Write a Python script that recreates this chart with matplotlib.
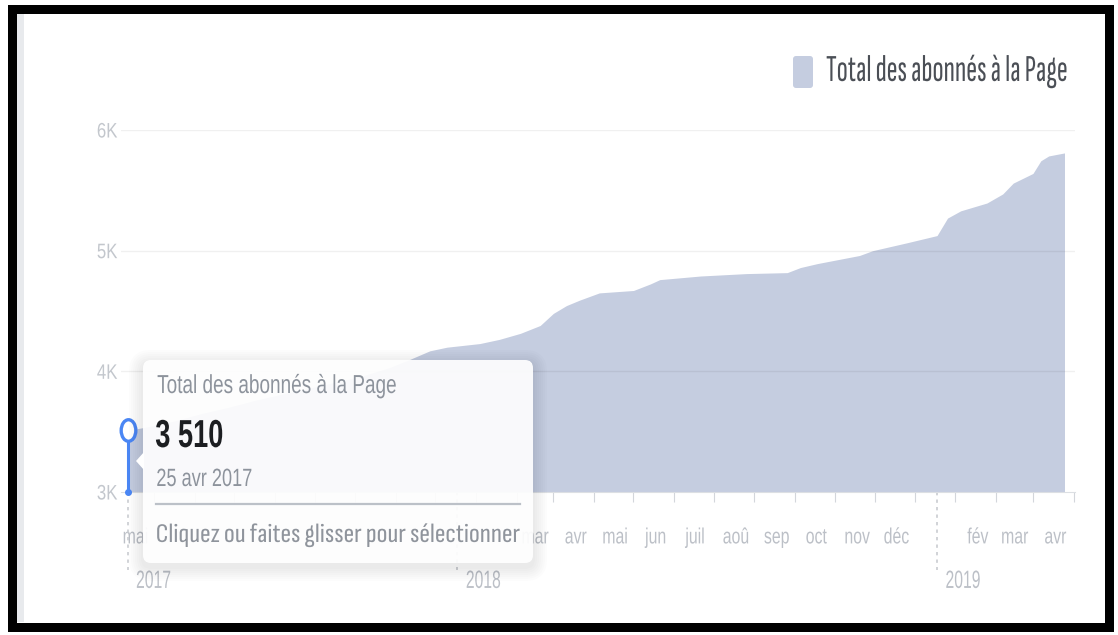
import matplotlib
matplotlib.use('Agg')
import matplotlib.pyplot as plt
import pandas as pd
from matplotlib.patches import FancyBboxPatch, Rectangle, Polygon
from matplotlib.patheffects import AbstractPathEffect
from matplotlib.path import Path
from matplotlib.transforms import Affine2D, blended_transform_factory, offset_copy

W, H = 1118, 635

# total page followers over time
dates = ['2017-04-25', '2017-05-10', '2017-05-31', '2017-06-20', '2017-07-10',
         '2017-07-31', '2017-08-20', '2017-09-10', '2017-09-30', '2017-10-20',
         '2017-11-10', '2017-11-26', '2017-12-11', '2017-12-24', '2018-01-18',
         '2018-02-02', '2018-02-18', '2018-03-05', '2018-03-15', '2018-03-25',
         '2018-04-04', '2018-04-19', '2018-05-15', '2018-05-28', '2018-06-04',
         '2018-07-05', '2018-08-09', '2018-09-09', '2018-09-19', '2018-10-02',
         '2018-11-03', '2018-11-13', '2018-12-09', '2019-01-01', '2019-01-09',
         '2019-01-19', '2019-02-08', '2019-02-20', '2019-02-28', '2019-03-15',
         '2019-03-21', '2019-03-27', '2019-04-08']
followers = [3510, 3540, 3590, 3650, 3700,
             3760, 3810, 3860, 3910, 3960,
             4030, 4100, 4170, 4200, 4230,
             4265, 4315, 4380, 4480, 4545,
             4590, 4650, 4670, 4725, 4760,
             4790, 4810, 4818, 4860, 4893,
             4960, 5000, 5065, 5125, 5270,
             5330, 5395, 5470, 5560, 5640,
             5745, 5785, 5810]

month_names = ['janv', 'fév', 'mar', 'avr', 'mai', 'jun', 'juil', 'aoû',
               'sep', 'oct', 'nov', 'déc']
y_ticks = [3000, 4000, 5000, 6000]
y_labels = ['3K', '4K', '5K', '6K']
year_marks = ['2017-04-25', '2018-01-01', '2019-01-01']
year_labels = ['2017', '2018', '2019']

series_name = 'Total des abonnés à la Page'
hover_date = '2017-04-25'
hover_value = 3510
hover_day = '25 avr 2017'
hint = 'Cliquez ou faites glisser pour sélectionner'
# months whose labels sit behind the hover card
card_months = ('2017-06-01', '2018-02-01')

AREA = '#c5cde0'
BLUE = '#4a86f4'
AXIS_GREY = '#bcc0c7'
NARROW = ['Sofia Sans Extra Condensed', 'Liberation Sans', 'DejaVu Sans']

plt.rcParams['font.family'] = ['Liberation Sans', 'DejaVu Sans']


class Squeeze(AbstractPathEffect):
    """Draws text glyphs rescaled horizontally about the text anchor."""

    def __init__(self, factor=0.75, anchor='left'):
        super().__init__()
        self.factor = factor
        self.anchor = anchor

    def draw_path(self, renderer, gc, tpath, affine, rgbFace=None):
        ext = tpath.get_extents()
        x0 = {'left': ext.x0, 'center': (ext.x0 + ext.x1) / 2,
              'right': ext.x1}[self.anchor]
        squeeze = Affine2D().translate(-x0, 0).scale(self.factor, 1).translate(x0, 0)
        renderer.draw_path(gc, tpath, squeeze + affine, rgbFace)


fig = plt.figure(figsize=(W / 100, H / 100), dpi=100)
fig.patch.set_facecolor('white')
renderer = fig.canvas.get_renderer()
# pixel coordinates, origin at top left
px = Affine2D().scale(1 / W, -1 / H).translate(0, 1) + fig.transFigure


def fit(t, width, anchor):
    """Rescale a text horizontally so its ink spans `width` pixels."""
    t.set_path_effects([Squeeze(width / t.get_window_extent(renderer).width, anchor)])
    return t


def put(x, y, s, size_px, color, width, ha='left', zorder=8, **kw):
    t = fig.text(x, y, s, transform=px, fontsize=size_px * 0.72, color=color,
                 ha=ha, va='baseline', zorder=zorder, **kw)
    return fit(t, width, ha)


x_left, x_right, y_top, y_base = 121, 1075, 130, 492
ax = fig.add_axes([x_left / W, 1 - y_base / H, (x_right - x_left) / W,
                   (y_base - y_top) / H])
ax.set_facecolor('none')

t = pd.to_datetime(dates)
ax.fill_between(t, y_ticks[0], followers, color=AREA, lw=0, zorder=1)
ax.set_xlim(pd.Timestamp('2017-04-20'), pd.Timestamp('2019-04-16'))
ax.set_ylim(y_ticks[0], y_ticks[-1])

for v in y_ticks[1:]:
    ax.axhline(v, color='black', alpha=0.06, lw=1, zorder=3)

for side in ['top', 'left', 'right']:
    ax.spines[side].set_visible(False)
ax.spines['bottom'].set_color('#dcdfe3')
ax.spines['bottom'].set_linewidth(0.8)

# month labels on the first day, small ticks mid-month; January gives way to the year
month_starts = pd.date_range('2017-05-01', '2019-04-01', freq='MS')
shown = [d for d in month_starts if d.month != 1]
hidden_from, hidden_to = pd.to_datetime(card_months)
ax.set_xticks(shown)
ax.set_xticklabels(['' if hidden_from <= d <= hidden_to else month_names[d.month - 1]
                    for d in shown])
ax.set_xticks(month_starts + pd.Timedelta(days=14), minor=True)
ax.tick_params(axis='x', which='major', length=0, pad=25.5, labelsize=22 * 0.72,
               labelcolor=AXIS_GREY)
ax.tick_params(axis='x', which='minor', length=7.5, width=0.8, color='#d3d6db')

ax.set_yticks(y_ticks)
ax.set_yticklabels(y_labels)
ax.tick_params(axis='y', length=0, pad=2.5, labelsize=21 * 0.72, labelcolor='#c3c7cd')

for tick in ax.xaxis.get_major_ticks():
    tick.label1.set_path_effects([Squeeze(0.72, 'center')])
for tick in ax.yaxis.get_major_ticks():
    tick.label1.set_path_effects([Squeeze(0.8, 'right')])

# year separators and year names under the month row
below = blended_transform_factory(ax.transData, ax.transAxes)
year_text = offset_copy(below, fig=fig, x=8, y=0, units='dots')
for d, lab in zip(pd.to_datetime(year_marks), year_labels):
    ax.plot([d, d], [0, -0.215], transform=below, color='#c9ccd1', lw=1.2,
            ls=(0, (2, 2.5)), clip_on=False, zorder=2)
    yt = ax.text(d, -0.265, lab, transform=year_text, fontsize=25 * 0.72,
                 color=AXIS_GREY, ha='left', va='baseline')
    fit(yt, 35, 'left')

# hovered point
hd = pd.Timestamp(hover_date)
ring = Path.unit_circle().transformed(Affine2D().scale(0.68, 1))
ax.vlines(hd, y_ticks[0], hover_value, color=BLUE, lw=2.2, zorder=6)
ax.plot([hd], [y_ticks[0]], marker='o', ms=4, color=BLUE, clip_on=False, zorder=6)
ax.plot([hd], [hover_value], marker=ring, ms=15.5, mfc='white', mec=BLUE,
        mew=2.4, clip_on=False, zorder=7)

# hover card with soft shadow
bx, by, bw, bh = 143, 360, 390, 203
for s in range(2, 16, 2):
    fig.add_artist(FancyBboxPatch((bx - s, by - s + 4), bw + 2 * s, bh + 2 * s,
                                  boxstyle=f'round,pad=0,rounding_size={8 + s}',
                                  transform=px, facecolor='black', alpha=0.012,
                                  lw=0, zorder=5))
fig.add_artist(FancyBboxPatch((bx, by), bw, bh,
                              boxstyle='round,pad=0,rounding_size=8',
                              transform=px, facecolor='white', alpha=0.93,
                              lw=0, zorder=6))
fig.add_artist(Polygon([(bx + 1, 452), (bx - 7, 461), (bx + 1, 470)], closed=True,
                       transform=px, facecolor='white', lw=0, zorder=6))

put(157, 393, series_name, 26, '#8d939c', 240)
put(155, 447, f'{hover_value:,}'.replace(',', ' '), 39, '#1c1e21', 68,
    fontweight='bold')
put(156, 486, hover_day, 25, '#8d939c', 96)
fig.add_artist(plt.Line2D([156, 520], [504, 504], transform=px, color='#bcc1c8',
                          lw=1.6, zorder=7))
put(156, 542, hint, 27, '#8f949c', 366, family=NARROW)

# legend
fig.add_artist(FancyBboxPatch((793, 56), 20, 32,
                              boxstyle='round,pad=0,rounding_size=3',
                              transform=px, facecolor=AREA, lw=0, zorder=4))
put(826, 81, series_name, 38, '#4b4f56', 242, family=NARROW)

# outer frame
fig.add_artist(Rectangle((16, 13), 8, 609, transform=px, facecolor='#e8eaed',
                         lw=0, zorder=9))
fig.add_artist(Rectangle((11.5, 8.5), 1097, 618, transform=px, fill=False,
                         edgecolor='black', lw=9 * 0.72, zorder=10))

fig.savefig('out.png', dpi=100)
